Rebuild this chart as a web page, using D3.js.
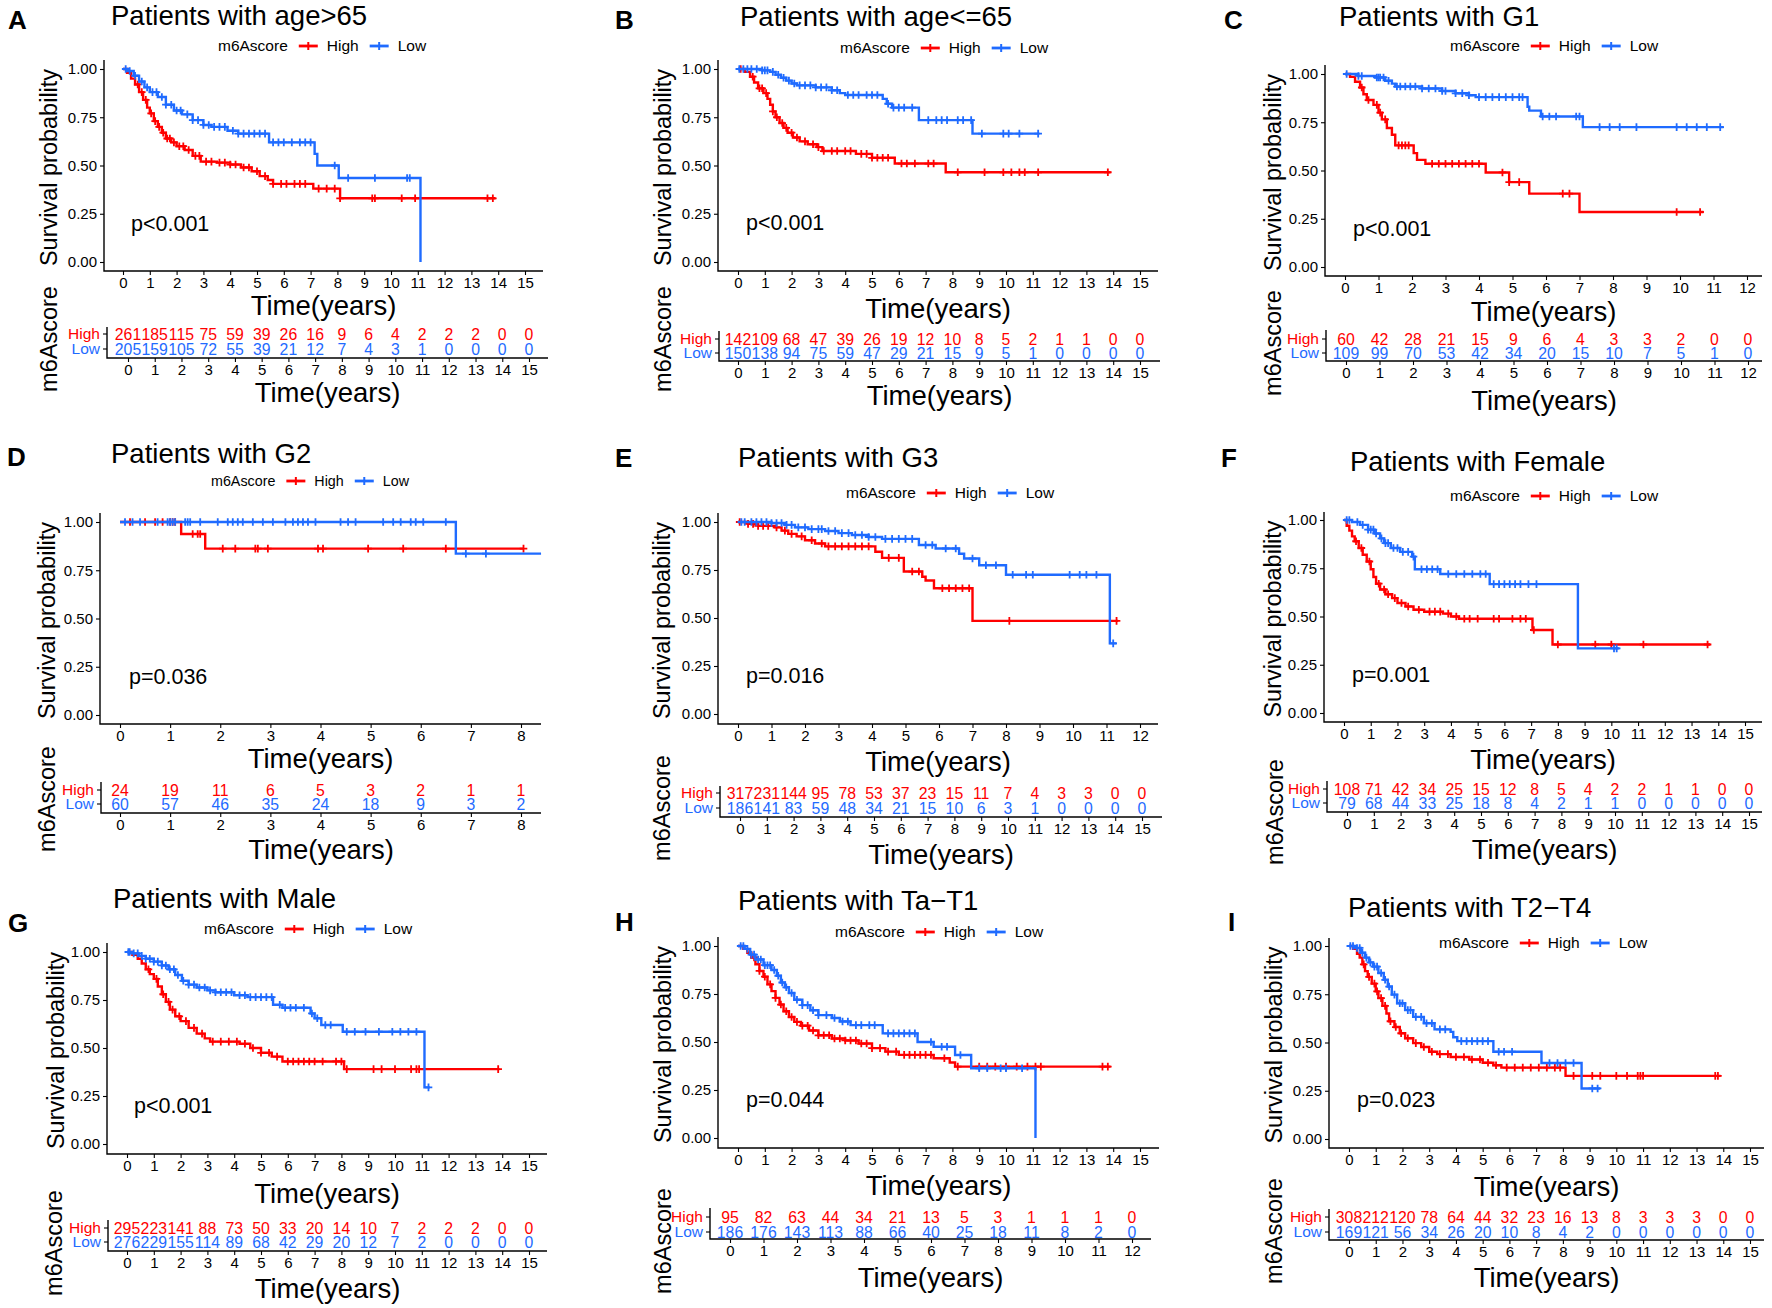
<!DOCTYPE html>
<html>
<head>
<meta charset="utf-8">
<script src="https://cdn.jsdelivr.net/npm/d3@7"></script>
<style>
body { margin: 0; background: #fff; }
text { font-family: "Liberation Sans", Arial, sans-serif; }
</style>
</head>
<body>
<svg id="fig" width="1772" height="1308"></svg>
<script>
// ---- panel labels / titles ----
var panelLetters = ["A", "B", "C", "D", "E", "F", "G", "H", "I"];
var panelTitles = ["Patients with age>65", "Patients with age<=65", "Patients with G1",
                   "Patients with G2", "Patients with G3", "Patients with Female",
                   "Patients with Male", "Patients with Ta\u2212T1", "Patients with T2\u2212T4"];
var pLabels = ["p<0.001", "p<0.001", "p<0.001", "p=0.036", "p=0.016", "p=0.001", "p<0.001", "p=0.044", "p=0.023"];
var mainTickMax = [15, 15, 12, 8, 12, 15, 15, 15, 15];
var riskTickMax = [15, 15, 12, 8, 15, 15, 15, 12, 15];
var yTicks = [0, 0.25, 0.5, 0.75, 1];
// last follow-up time of each curve [high, low]
var endTimes = [[13.9, 11.1], [13.9, 11.25], [10.7, 11.3], [8.05, 8.4], [11.35, 11.3],
                [13.7, 10.3], [13.9, 11.3], [13.9, 11.1], [13.9, 9.4]];

// ---- Kaplan-Meier steps [time, survival] ----
var survHighA = [[0,1],[0.15,0.98],[0.3,0.95],[0.45,0.92],[0.6,0.88],[0.75,0.84],[0.9,0.8],[1.0,0.77],[1.15,0.73],[1.3,0.7],[1.45,0.67],[1.6,0.64],[1.8,0.62],[2.0,0.6],[2.3,0.58],[2.6,0.55],[2.9,0.52],[3.5,0.515],[4.0,0.505],[4.4,0.49],[4.8,0.47],[5.1,0.445],[5.4,0.425],[5.6,0.405],[7.1,0.38],[8.1,0.33]];
var survLowA = [[0,1],[0.2,0.99],[0.4,0.965],[0.6,0.935],[0.8,0.905],[1.0,0.88],[1.3,0.855],[1.6,0.815],[1.9,0.785],[2.2,0.765],[2.6,0.735],[3.0,0.71],[3.3,0.7],[3.9,0.68],[4.3,0.665],[5.45,0.62],[7.15,0.56],[7.25,0.5],[8.05,0.435],[11.1,0]];
var survHighB = [[0,1],[0.25,0.985],[0.45,0.96],[0.6,0.93],[0.75,0.9],[0.95,0.875],[1.1,0.845],[1.2,0.815],[1.3,0.78],[1.4,0.75],[1.55,0.72],[1.7,0.695],[1.85,0.67],[2.05,0.645],[2.3,0.625],[2.6,0.61],[2.95,0.595],[3.15,0.575],[4.4,0.56],[5.0,0.54],[5.85,0.51],[7.75,0.465]];
var survLowB = [[0,1],[0.9,0.993],[1.2,0.985],[1.4,0.97],[1.6,0.955],[1.8,0.94],[2.0,0.925],[2.2,0.915],[2.9,0.905],[3.5,0.89],[3.8,0.875],[4.0,0.865],[5.4,0.845],[5.55,0.82],[5.75,0.8],[6.75,0.735],[8.75,0.665]];
var survHighC = [[0,1],[0.15,0.985],[0.3,0.96],[0.45,0.93],[0.55,0.895],[0.65,0.865],[0.85,0.84],[1.0,0.8],[1.1,0.765],[1.25,0.72],[1.4,0.685],[1.5,0.63],[2.05,0.59],[2.15,0.555],[2.4,0.535],[4.2,0.49],[4.9,0.44],[5.5,0.38],[7.0,0.285]];
var survLowC = [[0,1],[0.4,0.99],[0.9,0.982],[1.2,0.965],[1.4,0.95],[1.5,0.935],[2.3,0.925],[2.9,0.912],[3.3,0.9],[3.7,0.89],[3.9,0.88],[5.45,0.83],[5.5,0.81],[5.85,0.78],[7.1,0.725]];
var survHighD = [[0,1],[1.22,0.938],[1.7,0.862]];
var survLowD = [[0,1],[6.7,0.836]];
var survHighE = [[0,1],[0.3,0.99],[0.6,0.98],[1.1,0.972],[1.3,0.955],[1.5,0.938],[1.75,0.925],[2.0,0.905],[2.3,0.888],[2.6,0.873],[4.1,0.845],[4.3,0.813],[4.95,0.742],[5.5,0.715],[5.6,0.695],[5.85,0.655],[7.0,0.485]];
var survLowE = [[0,1],[1.0,0.995],[1.4,0.985],[1.7,0.972],[2.1,0.963],[2.6,0.953],[3.0,0.942],[3.4,0.932],[3.9,0.922],[4.3,0.912],[5.4,0.88],[5.9,0.862],[6.6,0.835],[6.75,0.81],[7.2,0.775],[8.0,0.725],[11.1,0.368]];
var survHighF = [[0,1],[0.1,0.97],[0.2,0.945],[0.3,0.915],[0.4,0.89],[0.55,0.855],[0.7,0.82],[0.85,0.785],[1.0,0.745],[1.1,0.705],[1.2,0.67],[1.35,0.64],[1.55,0.615],[1.8,0.595],[2.0,0.57],[2.3,0.552],[2.6,0.535],[3.0,0.525],[3.7,0.515],[4.0,0.5],[4.3,0.488],[7.05,0.43],[7.8,0.355]];
var survLowF = [[0,1],[0.3,0.99],[0.6,0.975],[0.9,0.95],[1.15,0.93],[1.35,0.905],[1.5,0.88],[1.75,0.855],[2.1,0.835],[2.55,0.81],[2.65,0.745],[3.6,0.72],[5.45,0.668],[8.75,0.335]];
var survHighG = [[0,1],[0.2,0.985],[0.4,0.965],[0.55,0.94],[0.7,0.91],[0.85,0.885],[1.0,0.86],[1.15,0.82],[1.3,0.78],[1.45,0.74],[1.6,0.7],[1.8,0.665],[2.0,0.64],[2.3,0.605],[2.6,0.575],[2.9,0.55],[3.1,0.533],[4.2,0.522],[4.6,0.5],[5.0,0.475],[5.4,0.455],[5.8,0.43],[8.1,0.39]];
var survLowG = [[0,1],[0.2,0.993],[0.45,0.98],[0.7,0.965],[1.0,0.95],[1.3,0.93],[1.55,0.91],[1.8,0.88],[2.05,0.85],[2.3,0.83],[2.6,0.815],[3.0,0.8],[3.3,0.79],[4.0,0.775],[4.5,0.765],[5.45,0.725],[5.8,0.71],[6.85,0.68],[7.0,0.655],[7.25,0.62],[8.05,0.585],[11.1,0.295]];
var survHighH = [[0,1],[0.2,0.985],[0.35,0.965],[0.5,0.94],[0.65,0.905],[0.8,0.87],[0.95,0.84],[1.1,0.8],[1.25,0.765],[1.4,0.73],[1.55,0.695],[1.7,0.66],[1.9,0.63],[2.1,0.605],[2.35,0.585],[2.65,0.56],[3.0,0.535],[3.5,0.518],[4.0,0.508],[4.5,0.492],[5.0,0.468],[5.5,0.45],[6.0,0.433],[7.3,0.415],[7.9,0.393],[8.1,0.372]];
var survLowH = [[0,1],[0.25,0.985],[0.45,0.955],[0.65,0.93],[0.95,0.9],[1.25,0.875],[1.45,0.845],[1.6,0.81],[1.75,0.785],[1.9,0.755],[2.1,0.72],[2.4,0.692],[2.7,0.665],[3.0,0.64],[3.5,0.625],[3.8,0.607],[4.2,0.588],[5.4,0.545],[6.7,0.5],[7.3,0.475],[8.1,0.432],[8.7,0.363],[11.1,0]];
var survHighI = [[0,1],[0.15,0.985],[0.3,0.96],[0.4,0.94],[0.5,0.905],[0.6,0.87],[0.7,0.84],[0.85,0.805],[1.0,0.765],[1.1,0.73],[1.25,0.69],[1.4,0.65],[1.5,0.61],[1.7,0.58],[1.9,0.548],[2.1,0.522],[2.4,0.497],[2.7,0.477],[3.0,0.452],[3.3,0.44],[3.8,0.425],[4.5,0.412],[5.0,0.395],[5.4,0.382],[5.7,0.37],[8.1,0.327]];
var survLowI = [[0,1],[0.25,0.99],[0.45,0.965],[0.6,0.94],[0.75,0.915],[0.9,0.893],[1.1,0.86],[1.3,0.825],[1.45,0.79],[1.6,0.748],[1.8,0.703],[2.1,0.668],[2.4,0.633],[2.8,0.6],[3.2,0.568],[3.8,0.555],[3.9,0.527],[4.05,0.507],[5.4,0.452],[7.2,0.394],[8.7,0.262]];

// ---- censoring times ----
var censHighA = [0.55,0.7,0.85,1.05,1.2,1.35,1.5,1.65,1.75,1.9,2.1,2.25,2.45,2.7,2.85,3.1,3.3,3.6,3.8,4.0,4.2,4.5,4.7,5.0,5.3,5.6,5.9,6.1,6.4,6.6,6.8,7.3,7.6,7.9,8.1,9.3,9.4,10.4,10.9,13.6,13.8];
var censLowA = [0.1,0.25,0.45,0.7,0.9,1.1,1.25,1.45,1.6,1.8,2.0,2.15,2.4,2.6,2.8,3.0,3.2,3.4,3.6,3.8,4.1,4.3,4.5,4.7,4.9,5.1,5.3,5.6,5.8,6.0,6.3,6.6,6.8,7.0,7.9,8.4,9.4,10.6,10.7];
var censHighB = [0.1,0.55,0.8,0.9,1.05,1.3,1.45,1.65,1.8,2.0,2.2,2.5,2.8,3.0,3.2,3.5,3.7,4.0,4.2,4.6,4.8,5.0,5.2,5.4,5.6,6.1,6.3,6.6,7.1,7.3,8.2,9.2,9.9,10.2,10.5,10.7,11.2,13.8];
var censLowB = [0.05,0.2,0.35,0.5,0.7,0.9,1.0,1.1,1.3,1.5,1.7,1.9,2.1,2.3,2.5,2.7,2.9,3.1,3.3,3.5,3.7,4.1,4.3,4.5,4.8,5.0,5.2,5.6,5.8,6.0,6.2,6.5,7.1,7.4,7.6,7.8,8.2,8.4,8.7,9.1,9.9,10.1,10.5,11.2];
var censHighC = [0.5,0.7,0.95,1.05,1.2,1.6,1.7,1.8,1.9,2.6,2.8,3.0,3.2,3.4,3.6,3.8,4.0,4.7,4.9,5.2,6.5,6.7,9.9,10.6];
var censLowC = [0.05,0.4,0.5,0.95,1.0,1.05,1.15,1.3,1.55,1.65,1.8,1.95,2.1,2.3,2.5,2.7,2.9,3.0,3.3,3.5,3.7,4.0,4.2,4.4,4.6,4.8,5.0,5.2,5.3,5.9,6.1,6.3,6.9,7.0,7.6,7.9,8.2,8.7,9.9,10.2,10.5,10.8,11.2];
var censHighD = [0.2,0.5,0.7,0.85,1.0,1.05,1.1,1.45,1.55,1.6,2.05,2.3,2.7,2.75,2.95,3.95,4.05,4.95,5.65,6.5,8.05];
var censLowD = [0.1,0.25,0.4,0.75,0.95,1.0,1.05,1.1,1.3,1.35,1.4,1.6,1.95,2.15,2.25,2.35,2.45,2.65,2.85,3.05,3.3,3.45,3.55,3.65,3.75,3.9,4.4,4.55,4.7,5.25,5.45,5.6,5.8,5.9,6.05,6.5,6.9,7.3];
var censHighE = [0.05,0.3,0.45,0.6,0.75,0.9,1.15,1.4,1.6,1.9,2.2,2.5,2.7,2.9,3.1,3.3,3.5,3.7,3.9,4.5,4.8,5.2,5.4,6.1,6.3,6.5,6.7,6.9,8.1,11.3];
var censLowE = [0.1,0.2,0.4,0.55,0.7,0.85,1.0,1.15,1.3,1.45,1.6,1.8,2.0,2.2,2.4,2.5,2.7,2.9,3.1,3.3,3.5,3.7,3.9,4.1,4.4,4.6,4.8,5.0,5.2,5.6,5.8,6.2,6.5,7.0,7.4,7.7,8.2,8.6,8.8,9.9,10.2,10.4,10.7,11.2];
var censHighF = [0.45,0.65,0.95,1.3,1.5,1.65,1.9,2.15,2.4,2.8,3.2,3.4,3.6,3.9,4.2,4.5,4.7,5.0,5.6,5.8,6.3,6.6,6.8,7.1,8.0,9.4,10.0,11.2,13.6];
var censLowF = [0.1,0.2,0.5,0.7,0.9,1.0,1.1,1.2,1.4,1.55,1.65,1.85,2.0,2.2,2.4,2.6,2.9,3.1,3.3,3.5,3.9,4.2,4.5,4.8,5.1,5.3,5.6,5.8,6.0,6.2,6.4,6.6,6.9,7.2,10.1,10.2];
var censHighG = [0.8,1.1,1.35,1.55,1.7,1.95,2.2,2.5,2.8,3.2,3.5,3.8,4.1,4.4,4.7,5.0,5.3,5.6,6.0,6.2,6.4,6.6,6.8,7.0,7.3,7.8,8.0,8.2,9.2,9.5,10.0,10.6,10.8,10.9,13.85];
var censLowG = [0.05,0.1,0.25,0.4,0.55,0.7,0.85,1.0,1.15,1.3,1.45,1.6,1.75,1.9,2.1,2.3,2.5,2.7,2.9,3.1,3.3,3.5,3.7,3.9,4.2,4.4,4.6,4.8,5.0,5.2,5.4,5.7,5.9,6.1,6.3,6.6,6.9,7.1,7.4,7.6,8.2,8.5,8.9,9.4,9.9,10.2,10.5,10.8,11.25];
var censHighH = [0.6,0.8,1.0,1.2,1.4,1.6,1.8,2.0,2.2,2.4,2.6,2.8,3.0,3.2,3.4,3.6,3.8,4.0,4.2,4.4,4.6,4.8,5.0,5.3,5.6,5.9,6.2,6.4,6.6,6.8,7.0,7.2,7.7,8.2,9.0,9.3,9.6,10.0,10.4,10.8,11.1,11.3,13.6,13.8];
var censLowH = [0.1,0.2,0.35,0.5,0.6,0.75,0.85,1.0,1.1,1.2,1.35,1.5,1.65,1.8,2.0,2.2,2.4,2.6,2.8,3.0,3.3,3.6,3.9,4.1,4.4,4.6,4.9,5.1,5.6,5.8,6.0,6.2,6.4,6.6,7.2,7.6,7.8,8.3,9.0,9.3,9.8,10.0,10.6];
var censHighI = [0.55,0.75,0.95,1.05,1.2,1.35,1.55,1.75,1.95,2.2,2.5,2.8,3.1,3.4,3.7,4.0,4.3,4.6,4.9,5.2,5.5,5.9,6.2,6.5,6.8,7.1,7.4,7.7,7.9,8.4,9.1,9.4,10.0,10.4,10.8,10.9,11.0,13.7,13.8];
var censLowI = [0.05,0.15,0.3,0.4,0.5,0.65,0.8,0.95,1.05,1.2,1.35,1.5,1.7,1.9,2.0,2.2,2.3,2.5,2.7,2.9,3.1,3.4,3.6,4.2,4.4,4.6,4.8,5.0,5.2,5.6,5.8,6.1,7.5,7.8,8.1,8.4,9.1,9.3];

// ---- numbers at risk (one value per risk-table tick) ----
var riskHighA = [261,185,115,75,59,39,26,16,9,6,4,2,2,2,0,0];
var riskLowA = [205,159,105,72,55,39,21,12,7,4,3,1,0,0,0,0];
var riskHighB = [142,109,68,47,39,26,19,12,10,8,5,2,1,1,0,0];
var riskLowB = [150,138,94,75,59,47,29,21,15,9,5,1,0,0,0,0];
var riskHighC = [60,42,28,21,15,9,6,4,3,3,2,0,0];
var riskLowC = [109,99,70,53,42,34,20,15,10,7,5,1,0];
var riskHighD = [24,19,11,6,5,3,2,1,1];
var riskLowD = [60,57,46,35,24,18,9,3,2];
var riskHighE = [317,231,144,95,78,53,37,23,15,11,7,4,3,3,0,0];
var riskLowE = [186,141,83,59,48,34,21,15,10,6,3,1,0,0,0,0];
var riskHighF = [108,71,42,34,25,15,12,8,5,4,2,2,1,1,0,0];
var riskLowF = [79,68,44,33,25,18,8,4,2,1,1,0,0,0,0,0];
var riskHighG = [295,223,141,88,73,50,33,20,14,10,7,2,2,2,0,0];
var riskLowG = [276,229,155,114,89,68,42,29,20,12,7,2,0,0,0,0];
var riskHighH = [95,82,63,44,34,21,13,5,3,1,1,1,0];
var riskLowH = [186,176,143,113,88,66,40,25,18,11,8,2,0];
var riskHighI = [308,212,120,78,64,44,32,23,16,13,8,3,3,3,0,0];
var riskLowI = [169,121,56,34,26,20,10,8,4,2,0,0,0,0,0,0];

var survHigh = [survHighA, survHighB, survHighC, survHighD, survHighE, survHighF, survHighG, survHighH, survHighI];
var survLow = [survLowA, survLowB, survLowC, survLowD, survLowE, survLowF, survLowG, survLowH, survLowI];
var censHigh = [censHighA, censHighB, censHighC, censHighD, censHighE, censHighF, censHighG, censHighH, censHighI];
var censLow = [censLowA, censLowB, censLowC, censLowD, censLowE, censLowF, censLowG, censLowH, censLowI];
var riskHigh = [riskHighA, riskHighB, riskHighC, riskHighD, riskHighE, riskHighF, riskHighG, riskHighH, riskHighI];
var riskLow = [riskLowA, riskLowB, riskLowC, riskLowD, riskLowE, riskLowF, riskLowG, riskLowH, riskLowI];

// ---- page layout of each panel (pixels) ----
var geo = [
  {lt:[8,29],    ti:[111,25],   lg:[218,46],   l:104, r:543,  t:60,  b:271,  t0:123,  t1:525,  y1:69,  y0:262,  ytx:49,   xtt:315,  px:131,  py:231,  rl:107,  rr:548,  rt:327,  rb:358,  r0:128,  r1:529,  rowH:334,  rowL:349,  rxt:402,  rytx:49,   ryty:339},
  {lt:[615,29],  ti:[740,26],   lg:[840,48],   l:718, r:1158, t:60,  b:271,  t0:738,  t1:1140, y1:69,  y0:262,  ytx:663,  xtt:318,  px:746,  py:230,  rl:719,  rr:1160, rt:331,  rb:361,  r0:738,  r1:1140, rowH:339,  rowL:353,  rxt:405,  rytx:663,  ryty:339},
  {lt:[1224,29], ti:[1339,26],  lg:[1450,46],  l:1325,r:1762, t:65,  b:276,  t0:1345, t1:1747, y1:74,  y0:267,  ytx:1273, xtt:321,  px:1353, py:236,  rl:1326, rr:1762, rt:330,  rb:361,  r0:1346, r1:1748, rowH:339,  rowL:353,  rxt:410,  rytx:1273, ryty:343},
  {lt:[7,466],   ti:[111,463],  lg:[211,481],  l:100, r:541,  t:513, b:724,  t0:120,  t1:521,  y1:522, y0:715,  ytx:47,   xtt:768,  px:129,  py:684,  rl:101,  rr:541,  rt:782,  rb:813,  r0:120,  r1:521,  rowH:790,  rowL:804,  rxt:859,  rytx:47,   ryty:799, lgs:14.3},
  {lt:[615,467], ti:[738,467],  lg:[846,493],  l:718, r:1158, t:513, b:724,  t0:738,  t1:1140, y1:522, y0:714,  ytx:662,  xtt:771,  px:746,  py:683,  rl:720,  rr:1162, rt:786,  rb:817,  r0:740,  r1:1142, rowH:793,  rowL:808,  rxt:864,  rytx:662,  ryty:808},
  {lt:[1221,467],ti:[1350,471], lg:[1450,496], l:1324,r:1762, t:512, b:722,  t0:1344, t1:1745, y1:520, y0:713,  ytx:1273, xtt:769,  px:1352, py:682,  rl:1327, rr:1762, rt:781,  rb:812,  r0:1347, r1:1749, rowH:789,  rowL:803,  rxt:859,  rytx:1275, ryty:812},
  {lt:[8,932],   ti:[113,908],  lg:[204,929],  l:107, r:547,  t:943, b:1154, t0:127,  t1:529,  y1:952, y0:1144, ytx:56,   xtt:1203, px:134,  py:1113, rl:108,  rr:547,  rt:1220, rb:1251, r0:127,  r1:529,  rowH:1228, rowL:1242, rxt:1298, rytx:54,   ryty:1243},
  {lt:[615,931], ti:[738,910],  lg:[835,932],  l:718, r:1159, t:937, b:1148, t0:738,  t1:1140, y1:946, y0:1138, ytx:663,  xtt:1195, px:746,  py:1107, rl:710,  rr:1151, rt:1208, rb:1239, r0:730,  r1:1132, rowH:1217, rowL:1232, rxt:1287, rytx:663,  ryty:1241},
  {lt:[1228,931],ti:[1348,917], lg:[1439,943], l:1329,r:1764, t:938, b:1148, t0:1349, t1:1750, y1:946, y0:1139, ytx:1274, xtt:1196, px:1357, py:1107, rl:1329, rr:1764, rt:1209, rb:1240, r0:1349, r1:1750, rowH:1217, rowL:1232, rxt:1287, rytx:1274, ryty:1231}
];

var RED = "#ff0000", BLUE = "#1f6bff";
var svg = d3.select("#fig");

// survival value of a step curve at time t
function survAt(steps, t) {
  var s = steps[0][1];
  steps.forEach(function (d) { if (d[0] <= t) s = d[1]; });
  return s;
}

function styleAxis(g, size) {
  g.select(".domain").remove();
  g.selectAll("text").attr("font-size", size).attr("fill", "#000")
    .attr("font-family", "'Liberation Sans', Arial, sans-serif");
  g.selectAll("line").attr("stroke", "#000").attr("stroke-width", 1.1);
}

function plusPath(s) { return "M" + (-s) + ",0H" + s + "M0," + (-s) + "V" + s; }

function drawPanel(k) {
  var L = geo[k];

  // letter + title
  svg.append("text").attr("x", L.lt[0]).attr("y", L.lt[1])
    .attr("font-size", 26).attr("font-weight", "bold").text(panelLetters[k]);
  svg.append("text").attr("x", L.ti[0]).attr("y", L.ti[1])
    .attr("font-size", 27.5).text(panelTitles[k]);

  // legend
  var lgs = L.lgs || 15.5;
  var lg = svg.append("g").attr("transform", "translate(" + L.lg[0] + "," + L.lg[1] + ")");
  var cx = 0;
  var t1 = lg.append("text").attr("x", cx).attr("dy", "0.35em").attr("font-size", lgs).text("m6Ascore");
  cx += t1.node().getComputedTextLength() + 11;
  [["High", RED], ["Low", BLUE]].forEach(function (e) {
    lg.append("line").attr("x1", cx).attr("x2", cx + 19).attr("stroke", e[1]).attr("stroke-width", 2.8);
    lg.append("path").attr("d", plusPath(4)).attr("transform", "translate(" + (cx + 9.5) + ",0)")
      .attr("stroke", e[1]).attr("stroke-width", 2);
    cx += 28;
    var tt = lg.append("text").attr("x", cx).attr("dy", "0.35em").attr("font-size", lgs).text(e[0]);
    cx += tt.node().getComputedTextLength() + 11;
  });

  // main KM plot
  var x = d3.scaleLinear().domain([0, mainTickMax[k]]).range([L.t0, L.t1]);
  var y = d3.scaleLinear().domain([0, 1]).range([L.y0, L.y1]);

  var gx = svg.append("g").attr("transform", "translate(0," + L.b + ")")
    .call(d3.axisBottom(x).tickValues(d3.range(0, mainTickMax[k] + 1)).tickSize(4).tickPadding(2).tickFormat(d3.format("d")));
  styleAxis(gx, 15);
  var gy = svg.append("g").attr("transform", "translate(" + L.l + ",0)")
    .call(d3.axisLeft(y).tickValues(yTicks).tickSize(4).tickPadding(3).tickFormat(d3.format(".2f")));
  styleAxis(gy, 15);
  svg.append("path").attr("d", "M" + L.l + "," + L.t + "V" + L.b + "H" + L.r)
    .attr("fill", "none").attr("stroke", "#000").attr("stroke-width", 1.4);

  var line = d3.line().x(function (d) { return x(d[0]); }).y(function (d) { return y(d[1]); })
    .curve(d3.curveStepAfter);
  var curves = [[survHigh[k], censHigh[k], endTimes[k][0], RED], [survLow[k], censLow[k], endTimes[k][1], BLUE]];
  curves.forEach(function (c) {
    var steps = c[0];
    var pts = steps.concat([[c[2], steps[steps.length - 1][1]]]);
    svg.append("path").datum(pts).attr("d", line)
      .attr("fill", "none").attr("stroke", c[3]).attr("stroke-width", 2.4);
    svg.append("g").selectAll("path").data(c[1]).enter().append("path")
      .attr("d", plusPath(3.8))
      .attr("transform", function (t) { return "translate(" + x(t) + "," + y(survAt(steps, t)) + ")"; })
      .attr("stroke", c[3]).attr("stroke-width", 1.8);
  });

  svg.append("text").attr("x", L.px).attr("y", L.py).attr("font-size", 21.5).text(pLabels[k]);

  svg.append("text").attr("x", (L.l + L.r) / 2).attr("y", L.xtt).attr("text-anchor", "middle")
    .attr("font-size", 27.5).text("Time(years)");
  svg.append("text").attr("transform", "translate(" + L.ytx + "," + ((L.t + L.b) / 2 + 2) + ") rotate(-90)")
    .attr("text-anchor", "middle").attr("dy", "0.35em").attr("font-size", 23.5).text("Survival probability");

  // risk table
  var xr = d3.scaleLinear().domain([0, riskTickMax[k]]).range([L.r0, L.r1]);
  var gxr = svg.append("g").attr("transform", "translate(0," + L.rb + ")")
    .call(d3.axisBottom(xr).tickValues(d3.range(0, riskTickMax[k] + 1)).tickSize(4).tickPadding(2).tickFormat(d3.format("d")));
  styleAxis(gxr, 15);
  svg.append("path").attr("d", "M" + L.rl + "," + L.rt + "V" + L.rb + "H" + L.rr)
    .attr("fill", "none").attr("stroke", "#000").attr("stroke-width", 1.4);

  var rows = [["High", riskHigh[k], L.rowH, RED], ["Low", riskLow[k], L.rowL, BLUE]];
  rows.forEach(function (r) {
    svg.append("line").attr("x1", L.rl - 4).attr("x2", L.rl).attr("y1", r[2]).attr("y2", r[2])
      .attr("stroke", "#000").attr("stroke-width", 1.1);
    svg.append("text").attr("x", L.rl - 7).attr("y", r[2]).attr("dy", "0.35em")
      .attr("text-anchor", "end").attr("font-size", 15.5).attr("fill", r[3]).text(r[0]);
    svg.append("g").selectAll("text").data(r[1]).enter().append("text")
      .attr("x", function (d, i) { return xr(i); }).attr("y", r[2]).attr("dy", "0.36em")
      .attr("text-anchor", "middle").attr("font-size", 15.8).attr("fill", r[3])
      .text(function (d) { return d; });
  });

  svg.append("text").attr("x", (L.rl + L.rr) / 2).attr("y", L.rxt).attr("text-anchor", "middle")
    .attr("font-size", 27.5).text("Time(years)");
  svg.append("text").attr("transform", "translate(" + L.rytx + "," + L.ryty + ") rotate(-90)")
    .attr("text-anchor", "middle").attr("dy", "0.35em").attr("font-size", 23.5).text("m6Ascore");
}

for (var k = 0; k < 9; k++) drawPanel(k);
</script>
</body>
</html>
